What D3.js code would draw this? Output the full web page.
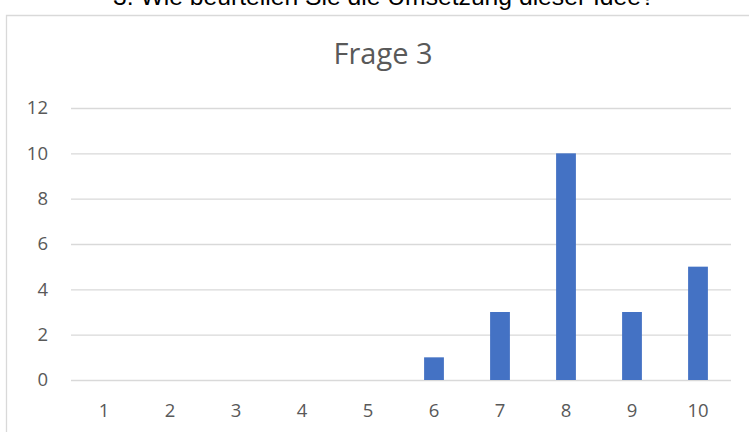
<!DOCTYPE html>
<html>
<head>
<meta charset="utf-8">
<script src="https://cdn.jsdelivr.net/npm/d3@7"></script>
<style>
  html, body { margin: 0; padding: 0; background: #fff; }
  svg { display: block; }
</style>
</head>
<body>
<svg id="chart" width="749" height="432"></svg>
<script>
// Survey question 3: number of answers per rating (1–10)
const heading = "3. Wie beurteilen Sie die Umsetzung dieser Idee?";
const chartTitle = "Frage 3";
const categories = ["1", "2", "3", "4", "5", "6", "7", "8", "9", "10"];
const counts = [0, 0, 0, 0, 0, 1, 3, 10, 3, 5];
const yTicks = [0, 2, 4, 6, 8, 10, 12];

const W = 749, H = 432;
const svg = d3.select("#chart");
const labelFont = "'Open Sans', 'Noto Sans', sans-serif";
const labelColor = "#595959";

// Question heading above the chart box (runs off the top edge of the page)
const headText = svg.append("text")
  .attr("x", 113).attr("y", 5)
  .attr("font-family", "Arial, 'Liberation Sans', sans-serif")
  .attr("font-size", 20)
  .attr("fill", "#000")
  .text(heading);
const hw = headText.node().getComputedTextLength();
headText.attr("font-size", 20 * 542 / hw);

// Chart box border (left and top edge visible)
svg.append("path")
  .attr("d", `M6.5,${H + 2}V15.5H${W + 2}`)
  .attr("fill", "none")
  .attr("stroke", "#d9d9d9")
  .attr("stroke-width", 1.3);

// Title
svg.append("text")
  .attr("x", 383).attr("y", 64)
  .attr("text-anchor", "middle")
  .attr("font-family", labelFont)
  .attr("font-size", 29)
  .attr("fill", labelColor)
  .text(chartTitle);

const plot = { left: 71, right: 731, top: 108, bottom: 380 };

const x = d3.scaleBand()
  .domain(categories)
  .range([plot.left, plot.right])
  .paddingInner(0.7)
  .paddingOuter(0.35);

const y = d3.scaleLinear()
  .domain([0, 12])
  .range([plot.bottom, plot.top]);

// Horizontal gridlines
const yAxis = d3.axisLeft(y)
  .tickValues(yTicks)
  .tickSize(-(plot.right - plot.left))
  .tickPadding(23);

const gy = svg.append("g")
  .attr("transform", `translate(${plot.left},0)`)
  .call(yAxis);
gy.select(".domain").remove();
gy.selectAll(".tick line")
  .attr("stroke", "#d9d9d9")
  .attr("stroke-width", 1.3);
gy.selectAll(".tick text")
  .attr("font-family", labelFont)
  .attr("font-size", 18.5)
  .attr("fill", labelColor);

// Category axis labels
const xAxis = d3.axisBottom(x).tickSize(0).tickPadding(24);
const gx = svg.append("g")
  .attr("transform", `translate(0,${plot.bottom})`)
  .call(xAxis);
gx.select(".domain").remove();
gx.selectAll(".tick text")
  .attr("font-family", labelFont)
  .attr("font-size", 18.5)
  .attr("fill", labelColor);

// Bars
svg.append("g")
  .selectAll("rect")
  .data(categories.map((c, i) => ({ c, v: counts[i] })))
  .join("rect")
  .attr("x", d => x(d.c))
  .attr("width", x.bandwidth())
  .attr("y", d => y(d.v))
  .attr("height", d => y(0) - y(d.v))
  .attr("fill", "#4472c4");
</script>
</body>
</html>
